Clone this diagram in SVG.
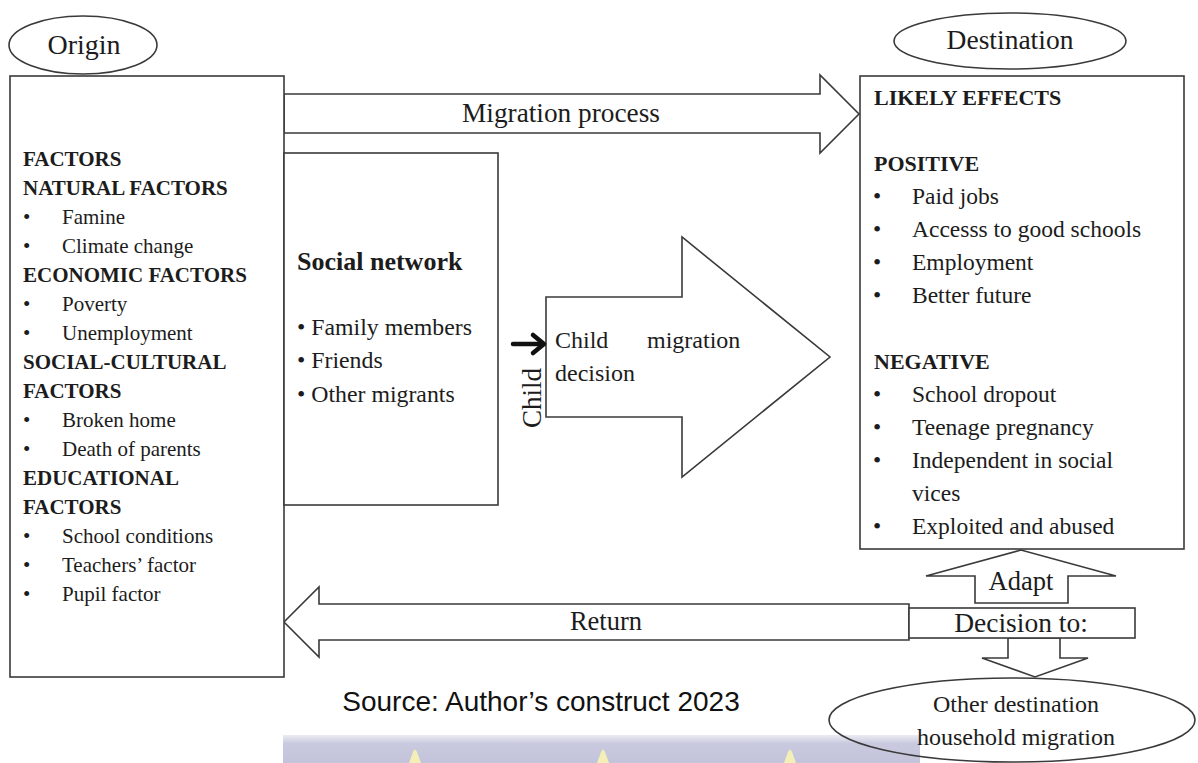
<svg xmlns="http://www.w3.org/2000/svg" width="1198" height="763" viewBox="0 0 1198 763">
<defs>
<style>
.sh{fill:#fff;stroke:#3a3a3a;stroke-width:1.6}
.open{fill:none;stroke:#3a3a3a;stroke-width:1.6}
.t{font-family:"Liberation Serif","Times New Roman",serif;fill:#1c1c1c}
.b{font-weight:bold}
.l{font-size:21px}
.r{font-size:23.5px}
.rb{font-size:22px;font-weight:bold}
.m{text-anchor:middle}
</style>
<linearGradient id="band" x1="0" y1="0" x2="0" y2="1">
<stop offset="0" stop-color="#ebebf2"/>
<stop offset="0.3" stop-color="#c9cadf"/>
<stop offset="1" stop-color="#c3c4db"/>
</linearGradient>
</defs>
<rect width="1198" height="763" fill="#fff"/>

<g id="watermark">
<rect x="283" y="735" width="637" height="28" fill="url(#band)"/>
<path d="M409 763 L413 752 Q415 747 417 752 L421 763 Z" fill="#f3efb6"/>
<path d="M597 763 L601 752 Q603 747 605 752 L609 763 Z" fill="#f3efb6"/>
<path d="M784 763 L788 752 Q790 747 792 752 L796 763 Z" fill="#f3efb6"/>
</g>

<g id="connectors">
<polygon id="migration-arrow" class="sh" points="284,94 820,94 820,75 859,114 820,153 820,133 284,133"/>
<polygon id="child-arrow" class="sh" points="546,297 682,297 682,237 830,357 682,477 682,417 546,417"/>
<polygon id="return-arrow" class="sh" points="909,604 319,604 319,587 284,622 319,657 319,640 909,640"/>
<polygon id="adapt-arrow" class="sh" points="975,603 975,576 926,576 1021,550 1116,576 1068,576 1068,603"/>
<polygon id="down-arrow" class="sh" points="1008,638 1008,658 982,658 1035,677 1088,658 1060,658 1060,638"/>
<g id="small-arrow" stroke="#111" stroke-width="4.5" fill="none" stroke-linecap="round" stroke-linejoin="round">
<line x1="513" y1="344" x2="543" y2="344"/>
<polyline points="533,335 544,344 533,353"/>
</g>
<text class="t m" x="561" y="122" font-size="27.3">Migration process</text>
<text class="t m" x="606" y="630" font-size="26.5">Return</text>
<text class="t m" x="1021" y="590" font-size="26.5">Adapt</text>
</g>

<g id="origin-label">
<ellipse class="sh" cx="83" cy="45" rx="74" ry="29"/>
<text class="t m" x="84" y="54" font-size="28">Origin</text>
</g>

<g id="origin-box">
<rect class="sh" x="10" y="76" width="274" height="601"/>
<text class="t l b" x="23" y="166">FACTORS</text>
<text class="t l b" x="23" y="195">NATURAL FACTORS</text>
<text class="t l" x="23" y="224">•</text><text class="t l" x="62" y="224">Famine</text>
<text class="t l" x="23" y="253">•</text><text class="t l" x="62" y="253">Climate change</text>
<text class="t l b" x="23" y="282">ECONOMIC FACTORS</text>
<text class="t l" x="23" y="311">•</text><text class="t l" x="62" y="311">Poverty</text>
<text class="t l" x="23" y="340">•</text><text class="t l" x="62" y="340">Unemployment</text>
<text class="t l b" x="23" y="369">SOCIAL-CULTURAL</text>
<text class="t l b" x="23" y="398">FACTORS</text>
<text class="t l" x="23" y="427">•</text><text class="t l" x="62" y="427">Broken home</text>
<text class="t l" x="23" y="456">•</text><text class="t l" x="62" y="456">Death of parents</text>
<text class="t l b" x="23" y="485">EDUCATIONAL</text>
<text class="t l b" x="23" y="514">FACTORS</text>
<text class="t l" x="23" y="543">•</text><text class="t l" x="62" y="543">School conditions</text>
<text class="t l" x="23" y="572">•</text><text class="t l" x="62" y="572">Teachers’ factor</text>
<text class="t l" x="23" y="601">•</text><text class="t l" x="62" y="601">Pupil factor</text>
</g>

<g id="social-network">
<rect class="sh" x="284" y="153" width="214" height="352"/>
<text class="t b" x="297" y="270" font-size="26">Social network</text>
<text class="t" x="297" y="335" font-size="23.8">• Family members</text>
<text class="t" x="297" y="368" font-size="23.8">• Friends</text>
<text class="t" x="297" y="402" font-size="23.8">• Other migrants</text>
</g>

<g id="child-decision">
<text class="t" x="555" y="348" font-size="24">Child</text>
<text class="t" x="647" y="348" font-size="24">migration</text>
<text class="t" x="555" y="381" font-size="24">decision</text>
<text class="t m" transform="translate(541,398) rotate(-90)" font-size="27">Child</text>
</g>

<g id="destination-label">
<ellipse class="sh" cx="1010" cy="41" rx="116" ry="28"/>
<text class="t m" x="1010" y="49" font-size="27.5">Destination</text>
</g>

<g id="effects-box">
<rect class="sh" x="860" y="76" width="324" height="473"/>
<text class="t rb" x="874" y="105">LIKELY EFFECTS</text>
<text class="t rb" x="874" y="171">POSITIVE</text>
<text class="t r" x="873" y="204">•</text><text class="t r" x="912" y="204">Paid jobs</text>
<text class="t r" x="873" y="237">•</text><text class="t r" x="912" y="237">Accesss to good schools</text>
<text class="t r" x="873" y="270">•</text><text class="t r" x="912" y="270">Employment</text>
<text class="t r" x="873" y="303">•</text><text class="t r" x="912" y="303">Better future</text>
<text class="t rb" x="874" y="369">NEGATIVE</text>
<text class="t r" x="873" y="402">•</text><text class="t r" x="912" y="402">School dropout</text>
<text class="t r" x="873" y="435">•</text><text class="t r" x="912" y="435">Teenage pregnancy</text>
<text class="t r" x="873" y="468">•</text><text class="t r" x="912" y="468">Independent  in social</text>
<text class="t r" x="912" y="501">vices</text>
<text class="t r" x="873" y="534">•</text><text class="t r" x="912" y="534">Exploited and abused</text>
</g>

<g id="decision-box">
<rect class="sh" x="909" y="608" width="226" height="30"/>
<text class="t m" x="1021" y="632" font-size="27.5">Decision to:</text>
</g>

<g id="other-destination">
<ellipse class="open" cx="1012" cy="720" rx="183" ry="42"/>
<text class="t m" x="1016" y="712" font-size="24">Other destination</text>
<text class="t m" x="1016" y="745" font-size="24">household migration</text>
</g>

<text id="source" x="541" y="711" font-family="Liberation Sans, Arial, sans-serif" font-size="28" text-anchor="middle" fill="#111">Source: Author’s construct 2023</text>
</svg>
